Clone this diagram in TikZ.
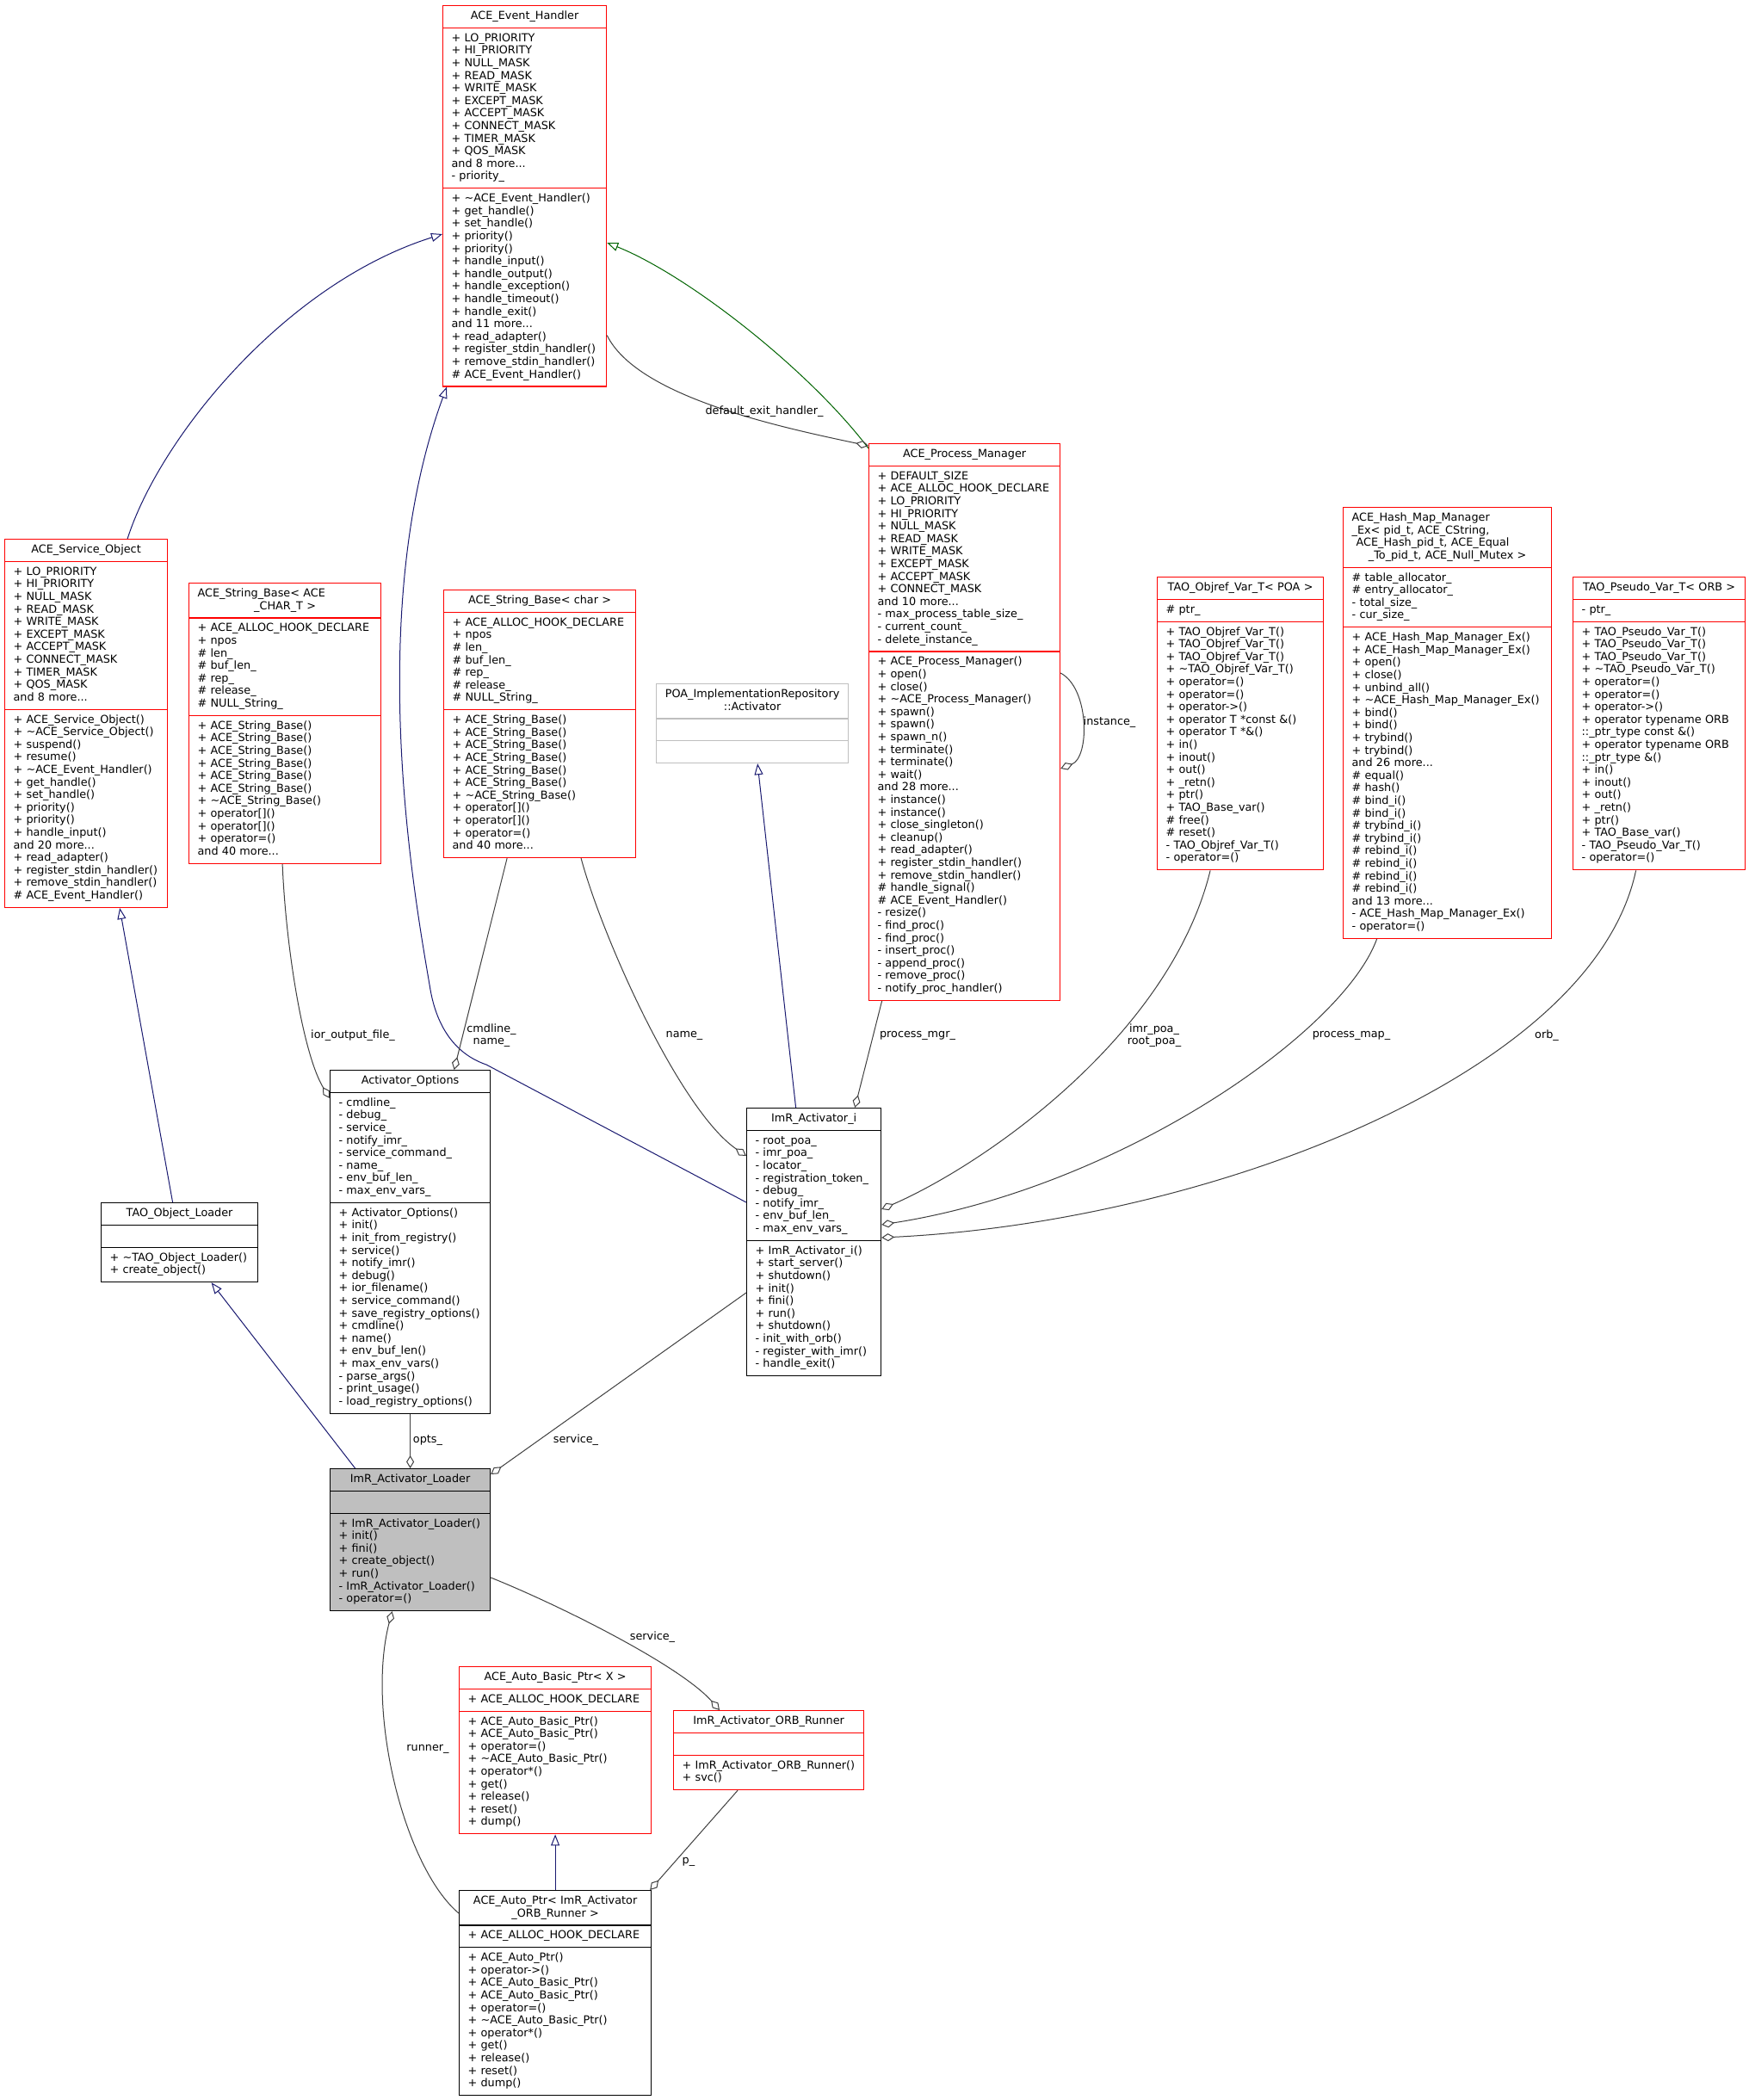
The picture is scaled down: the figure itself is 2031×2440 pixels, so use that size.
\documentclass[tikz,border=0pt]{standalone}
\usepackage{fontspec}
\setmainfont{DejaVu Sans}
\usepackage{tikz}
\usetikzlibrary{arrows.meta,positioning,calc,shapes.multipart}
\usepackage{xcolor}
\definecolor{inhblue}{RGB}{25,25,112}
\definecolor{protgreen}{RGB}{0,100,0}
\definecolor{edgegray}{RGB}{64,64,64}
\definecolor{boxgray}{RGB}{191,191,191}

\newcommand\clsfont{\fontsize{12.8}{14.6}\selectfont}
\newcommand\ttl[1]{{\centering\strut#1\strut\par}}
\newcommand\mem[1]{\strut#1\strut}

\tikzset{
  cls/.style={rectangle split,rectangle split parts=3,draw=black,line width=1.2pt,
    anchor=north west,inner xsep=10pt,inner ysep=5pt,align=left,font=\clsfont},
  redcls/.style={cls,draw=red},
  inh/.style={draw=inhblue,line width=1pt,-{Triangle[open,length=13pt,width=10pt]}},
  inhprot/.style={inh,draw=protgreen},
  agg/.style={draw=edgegray,line width=1pt,-{Diamond[open,length=15pt,width=9pt]}},
  lbl/.style={font=\clsfont,inner sep=0pt,align=center}
}

\begin{document}
\begin{tikzpicture}[x=1pt,y=-1pt]
\useasboundingbox[fill=white] (0,0) rectangle (2031,2440);

\node[redcls,text width=170] (EH) at (514,6) {\ttl{ACE\_Event\_Handler}
\nodepart{two}\mem{+ LO\_PRIORITY\\+ HI\_PRIORITY\\+ NULL\_MASK\\+ READ\_MASK\\+ WRITE\_MASK\\+ EXCEPT\_MASK\\+ ACCEPT\_MASK\\+ CONNECT\_MASK\\+ TIMER\_MASK\\+ QOS\_MASK\\and 8 more...\\- priority\_}
\nodepart{three}\mem{+ \textasciitilde ACE\_Event\_Handler()\\+ get\_handle()\\+ set\_handle()\\+ priority()\\+ priority()\\+ handle\_input()\\+ handle\_output()\\+ handle\_exception()\\+ handle\_timeout()\\+ handle\_exit()\\and 11 more...\\+ read\_adapter()\\+ register\_stdin\_handler()\\+ remove\_stdin\_handler()\\\# ACE\_Event\_Handler()}};

\node[redcls,text width=169] (SO) at (5,626) {\ttl{ACE\_Service\_Object}
\nodepart{two}\mem{+ LO\_PRIORITY\\+ HI\_PRIORITY\\+ NULL\_MASK\\+ READ\_MASK\\+ WRITE\_MASK\\+ EXCEPT\_MASK\\+ ACCEPT\_MASK\\+ CONNECT\_MASK\\+ TIMER\_MASK\\+ QOS\_MASK\\and 8 more...}
\nodepart{three}\mem{+ ACE\_Service\_Object()\\+ \textasciitilde ACE\_Service\_Object()\\+ suspend()\\+ resume()\\+ \textasciitilde ACE\_Event\_Handler()\\+ get\_handle()\\+ set\_handle()\\+ priority()\\+ priority()\\+ handle\_input()\\and 20 more...\\+ read\_adapter()\\+ register\_stdin\_handler()\\+ remove\_stdin\_handler()\\\# ACE\_Event\_Handler()}};

\node[redcls,text width=203] (SB1) at (219,677) {{\strut ACE\_String\_Base< ACE\par\centering\_CHAR\_T >\strut\par}
\nodepart{two}\mem{+ ACE\_ALLOC\_HOOK\_DECLARE\\+ npos\\\# len\_\\\# buf\_len\_\\\# rep\_\\\# release\_\\\# NULL\_String\_}
\nodepart{three}\mem{+ ACE\_String\_Base()\\+ ACE\_String\_Base()\\+ ACE\_String\_Base()\\+ ACE\_String\_Base()\\+ ACE\_String\_Base()\\+ ACE\_String\_Base()\\+ \textasciitilde ACE\_String\_Base()\\+ operator[]()\\+ operator[]()\\+ operator=()\\and 40 more...}};

\node[redcls,text width=203] (SB2) at (515,685) {\ttl{ACE\_String\_Base< char >}
\nodepart{two}\mem{+ ACE\_ALLOC\_HOOK\_DECLARE\\+ npos\\\# len\_\\\# buf\_len\_\\\# rep\_\\\# release\_\\\# NULL\_String\_}
\nodepart{three}\mem{+ ACE\_String\_Base()\\+ ACE\_String\_Base()\\+ ACE\_String\_Base()\\+ ACE\_String\_Base()\\+ ACE\_String\_Base()\\+ ACE\_String\_Base()\\+ \textasciitilde ACE\_String\_Base()\\+ operator[]()\\+ operator[]()\\+ operator=()\\and 40 more...}};

\node[redcls,text width=202] (PM) at (1009,515) {\ttl{ACE\_Process\_Manager}
\nodepart{two}\mem{+ DEFAULT\_SIZE\\+ ACE\_ALLOC\_HOOK\_DECLARE\\+ LO\_PRIORITY\\+ HI\_PRIORITY\\+ NULL\_MASK\\+ READ\_MASK\\+ WRITE\_MASK\\+ EXCEPT\_MASK\\+ ACCEPT\_MASK\\+ CONNECT\_MASK\\and 10 more...\\- max\_process\_table\_size\_\\- current\_count\_\\- delete\_instance\_}
\nodepart{three}\mem{+ ACE\_Process\_Manager()\\+ open()\\+ close()\\+ \textasciitilde ACE\_Process\_Manager()\\+ spawn()\\+ spawn()\\+ spawn\_n()\\+ terminate()\\+ terminate()\\+ wait()\\and 28 more...\\+ instance()\\+ instance()\\+ close\_singleton()\\+ cleanup()\\+ read\_adapter()\\+ register\_stdin\_handler()\\+ remove\_stdin\_handler()\\\# handle\_signal()\\\# ACE\_Event\_Handler()\\- resize()\\- find\_proc()\\- find\_proc()\\- insert\_proc()\\- append\_proc()\\- remove\_proc()\\- notify\_proc\_handler()}};

\node[cls,draw=boxgray,text width=203] (POA) at (762,794) {\ttl{POA\_ImplementationRepository\\::Activator}
\nodepart{two}\mem{}
\nodepart{three}\mem{}};

\node[redcls,text width=173] (OV) at (1344,670) {\ttl{TAO\_Objref\_Var\_T< POA >}
\nodepart{two}\mem{\# ptr\_}
\nodepart{three}\mem{+ TAO\_Objref\_Var\_T()\\+ TAO\_Objref\_Var\_T()\\+ TAO\_Objref\_Var\_T()\\+ \textasciitilde TAO\_Objref\_Var\_T()\\+ operator=()\\+ operator=()\\+ operator->()\\+ operator T *const \&()\\+ operator T *\&()\\+ in()\\+ inout()\\+ out()\\+ \_retn()\\+ ptr()\\+ TAO\_Base\_var()\\\# free()\\\# reset()\\- TAO\_Objref\_Var\_T()\\- operator=()}};

\node[redcls,text width=222] (HM) at (1560,589) {{\strut ACE\_Hash\_Map\_Manager\par \_Ex< pid\_t, ACE\_CString,\par\hspace*{5pt}ACE\_Hash\_pid\_t, ACE\_Equal\par\centering\_To\_pid\_t, ACE\_Null\_Mutex >\strut\par}
\nodepart{two}\mem{\# table\_allocator\_\\\# entry\_allocator\_\\- total\_size\_\\- cur\_size\_}
\nodepart{three}\mem{+ ACE\_Hash\_Map\_Manager\_Ex()\\+ ACE\_Hash\_Map\_Manager\_Ex()\\+ open()\\+ close()\\+ unbind\_all()\\+ \textasciitilde ACE\_Hash\_Map\_Manager\_Ex()\\+ bind()\\+ bind()\\+ trybind()\\+ trybind()\\and 26 more...\\\# equal()\\\# hash()\\\# bind\_i()\\\# bind\_i()\\\# trybind\_i()\\\# trybind\_i()\\\# rebind\_i()\\\# rebind\_i()\\\# rebind\_i()\\\# rebind\_i()\\and 13 more...\\- ACE\_Hash\_Map\_Manager\_Ex()\\- operator=()}};

\node[redcls,text width=180] (PV) at (1827,670) {\ttl{TAO\_Pseudo\_Var\_T< ORB >}
\nodepart{two}\mem{- ptr\_}
\nodepart{three}\mem{+ TAO\_Pseudo\_Var\_T()\\+ TAO\_Pseudo\_Var\_T()\\+ TAO\_Pseudo\_Var\_T()\\+ \textasciitilde TAO\_Pseudo\_Var\_T()\\+ operator=()\\+ operator=()\\+ operator->()\\+ operator typename ORB\\::\_ptr\_type const \&()\\+ operator typename ORB\\::\_ptr\_type \&()\\+ in()\\+ inout()\\+ out()\\+ \_retn()\\+ ptr()\\+ TAO\_Base\_var()\\- TAO\_Pseudo\_Var\_T()\\- operator=()}};

\node[cls,text width=166] (AO) at (383,1243) {\ttl{Activator\_Options}
\nodepart{two}\mem{- cmdline\_\\- debug\_\\- service\_\\- notify\_imr\_\\- service\_command\_\\- name\_\\- env\_buf\_len\_\\- max\_env\_vars\_}
\nodepart{three}\mem{+ Activator\_Options()\\+ init()\\+ init\_from\_registry()\\+ service()\\+ notify\_imr()\\+ debug()\\+ ior\_filename()\\+ service\_command()\\+ save\_registry\_options()\\+ cmdline()\\+ name()\\+ env\_buf\_len()\\+ max\_env\_vars()\\- parse\_args()\\- print\_usage()\\- load\_registry\_options()}};

\node[cls,text width=162] (OL) at (117,1397) {\ttl{TAO\_Object\_Loader}
\nodepart{two}\mem{}
\nodepart{three}\mem{+ \textasciitilde TAO\_Object\_Loader()\\+ create\_object()}};

\node[cls,text width=136] (AI) at (867,1287) {\ttl{ImR\_Activator\_i}
\nodepart{two}\mem{- root\_poa\_\\- imr\_poa\_\\- locator\_\\- registration\_token\_\\- debug\_\\- notify\_imr\_\\- env\_buf\_len\_\\- max\_env\_vars\_}
\nodepart{three}\mem{+ ImR\_Activator\_i()\\+ start\_server()\\+ shutdown()\\+ init()\\+ fini()\\+ run()\\+ shutdown()\\- init\_with\_orb()\\- register\_with\_imr()\\- handle\_exit()}};

\node[cls,fill=boxgray,text width=166] (AL) at (383,1706) {\ttl{ImR\_Activator\_Loader}
\nodepart{two}\mem{}
\nodepart{three}\mem{+ ImR\_Activator\_Loader()\\+ init()\\+ fini()\\+ create\_object()\\+ run()\\- ImR\_Activator\_Loader()\\- operator=()}};

\node[redcls,text width=203] (ABP) at (533,1936) {\ttl{ACE\_Auto\_Basic\_Ptr< X >}
\nodepart{two}\mem{+ ACE\_ALLOC\_HOOK\_DECLARE}
\nodepart{three}\mem{+ ACE\_Auto\_Basic\_Ptr()\\+ ACE\_Auto\_Basic\_Ptr()\\+ operator=()\\+ \textasciitilde ACE\_Auto\_Basic\_Ptr()\\+ operator*()\\+ get()\\+ release()\\+ reset()\\+ dump()}};

\node[redcls,text width=201] (ORB) at (782,1987) {\ttl{ImR\_Activator\_ORB\_Runner}
\nodepart{two}\mem{}
\nodepart{three}\mem{+ ImR\_Activator\_ORB\_Runner()\\+ svc()}};

\node[cls,text width=203] (AP) at (533,2196) {\ttl{ACE\_Auto\_Ptr< ImR\_Activator\\\_ORB\_Runner >}
\nodepart{two}\mem{+ ACE\_ALLOC\_HOOK\_DECLARE}
\nodepart{three}\mem{+ ACE\_Auto\_Ptr()\\+ operator->()\\+ ACE\_Auto\_Basic\_Ptr()\\+ ACE\_Auto\_Basic\_Ptr()\\+ operator=()\\+ \textasciitilde ACE\_Auto\_Basic\_Ptr()\\+ operator*()\\+ get()\\+ release()\\+ reset()\\+ dump()}};

% inheritance
\draw[inh] ([xshift=48pt]SO.north) .. controls (185,510) and (330,330) .. ([yshift=-266pt]EH.north west);
\draw[inh] ([xshift=-8pt]OL.north) -- ([xshift=39pt]SO.south);
\draw[inh] ([xshift=-64pt]AL.north) -- ([xshift=37pt]OL.south);
\draw[inh] ([yshift=-110pt]AI.north west) -- (565,1237) .. controls (530,1225) and (508,1195) .. (500,1150)
  .. controls (485,1060) and (420,720) .. ([xshift=5pt]EH.south west);
\draw[inhprot] ([yshift=-6pt]PM.north west) .. controls (940,430) and (800,320) .. ([yshift=-276pt]EH.north east);
\draw[inh] ([xshift=-21pt]AI.north) -- ([xshift=6pt]POA.south);
\draw[inh] (AP.north) -- (ABP.south);

% members
\draw[agg] ([yshift=60pt]EH.south east) .. controls (740,460) and (900,495) .. ([yshift=-3pt]PM.north west);
\draw[agg] ([yshift=-267pt]PM.north east) .. controls (1266,800) and (1266,880) .. ([yshift=-378pt]PM.north east);
\draw[agg] ([xshift=-3pt]SB1.south) .. controls (332,1100) and (352,1225) .. ([yshift=-33pt]AO.north west);
\draw[agg] ([xshift=-38pt]SB2.south) -- ([xshift=51pt]AO.north);
\draw[agg] ([xshift=48pt]SB2.south) .. controls (700,1090) and (790,1290) .. ([yshift=-56pt]AI.north west);
\draw[agg] ([xshift=-96pt]PM.south) -- ([xshift=-31pt]AI.north east);
\draw[agg] ([xshift=-35pt]OV.south) .. controls (1360,1200) and (1150,1350) .. ([yshift=-118pt]AI.north east);
\draw[agg] ([xshift=-82pt]HM.south) .. controls (1560,1200) and (1300,1380) .. ([yshift=-136pt]AI.north east);
\draw[agg] ([xshift=-27pt]PV.south) .. controls (1850,1250) and (1400,1420) .. ([yshift=-151pt]AI.north east);
\draw[agg] (AO.south) -- (AL.north);
\draw[agg] ([yshift=-215pt]AI.north west) -- ([yshift=-7pt]AL.north east);
\draw[agg] ([yshift=-127pt]AL.north east) .. controls (650,1865) and (790,1935) .. ([xshift=54pt]ORB.north west);
\draw[agg] ([yshift=-27pt]AP.north west) .. controls (470,2170) and (425,1990) .. ([xshift=-21pt]AL.south);
\draw[agg] ([xshift=-36pt]ORB.south) -- ([xshift=-2pt]AP.north east);

\node[lbl] (lExit) at (888,478) {default\_exit\_handler\_};
\node[lbl] (lInst) at (1289,839) {instance\_};
\node[lbl] (lIor) at (410,1203) {ior\_output\_file\_};
\node[lbl] (lCmd) at (571,1203) {cmdline\_\\name\_};
\node[lbl] (lName) at (795,1203) {name\_};
\node[lbl] (lMgr) at (1066,1203) {process\_mgr\_};
\node[lbl] (lPoa) at (1341,1203) {imr\_poa\_\\root\_poa\_};
\node[lbl] (lMap) at (1570,1203) {process\_map\_};
\node[lbl] (lOrb) at (1797,1203) {orb\_};
\node[lbl] (lOpts) at (497,1673) {opts\_};
\node[lbl] (lSvc) at (669,1673) {service\_};
\node[lbl] (lSvc2) at (758,1902) {service\_};
\node[lbl] (lRun) at (497,2032) {runner\_};
\node[lbl] (lP) at (800,2163) {p\_};
\end{tikzpicture}
\end{document}
